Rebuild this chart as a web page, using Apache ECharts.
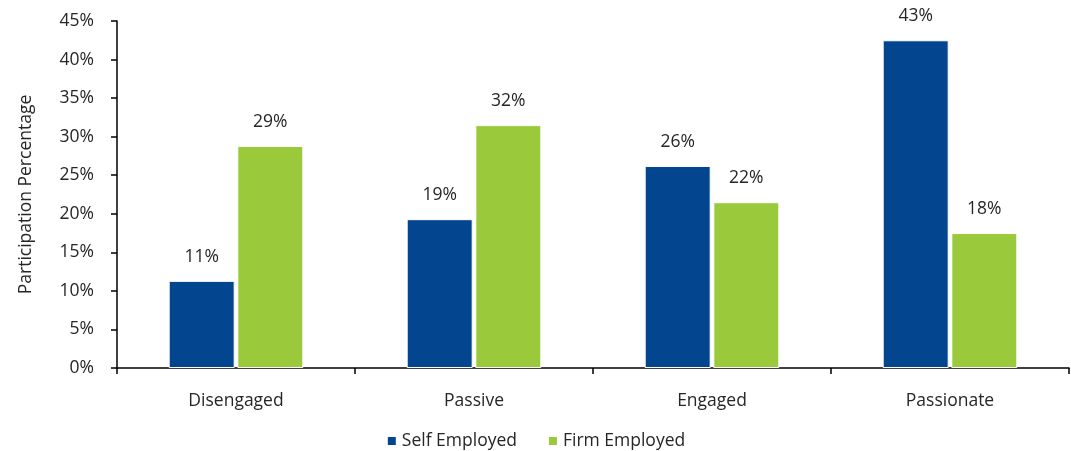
<!DOCTYPE html>
<html><head><meta charset="utf-8">
<script src="https://cdn.jsdelivr.net/npm/echarts@6/dist/echarts.min.js"></script>
<style>html,body{margin:0;padding:0;background:#fff}#c{width:1071px;height:451px}</style>
</head><body><div id="c"></div>
<script>
const categories = ['Disengaged', 'Passive', 'Engaged', 'Passionate'];
const selfEmployed = [11.3, 19.3, 26.2, 42.5];
const firmEmployed = [28.8, 31.5, 21.5, 17.5];
const seriesNames = ['Self Employed', 'Firm Employed'];
const yTitle = 'Participation Percentage';

const font = 'Open Sans';
const fs = 17.5;
const textColor = '#262626';
const chart = echarts.init(document.getElementById('c'));
const lbl = {show: true, position: 'top', distance: 15, fontFamily: font, fontSize: fs, color: textColor,
  formatter: p => Math.round(p.value) + '%'};
chart.setOption({
  animation: false,
  grid: {left: 117, right: 2, top: 21, bottom: 83},
  legend: {top: 427, left: 'center', itemWidth: 10, itemHeight: 10, itemGap: 30, icon: 'rect',
    textStyle: {fontFamily: font, fontSize: fs, color: textColor}, data: seriesNames},
  xAxis: {type: 'category', data: categories,
    axisLine: {lineStyle: {color: '#000', width: 1.5}},
    axisTick: {show: true, length: 6, lineStyle: {color: '#000', width: 1.5}},
    axisLabel: {margin: 24, fontFamily: font, fontSize: fs, color: textColor}},
  yAxis: {type: 'value', min: 0, max: 45, interval: 5,
    name: yTitle, nameLocation: 'middle', nameGap: 82, nameRotate: 90,
    nameTextStyle: {fontFamily: font, fontSize: fs, color: textColor},
    splitLine: {show: false},
    axisLine: {show: true, lineStyle: {color: '#000', width: 1.5}},
    axisTick: {show: true, length: 6, lineStyle: {color: '#000', width: 1.5}},
    axisLabel: {margin: 23, fontFamily: font, fontSize: fs, color: textColor, formatter: '{value}%'}},
  series: [
    {name: seriesNames[0], type: 'bar', data: selfEmployed, barWidth: 66, barGap: '4%',
     itemStyle: {color: '#03468F', borderColor: '#fff', borderWidth: 1}, label: lbl},
    {name: seriesNames[1], type: 'bar', data: firmEmployed, barWidth: 66,
     itemStyle: {color: '#9ACA3C', borderColor: '#fff', borderWidth: 1}, label: lbl}
  ]
});
</script></body></html>
